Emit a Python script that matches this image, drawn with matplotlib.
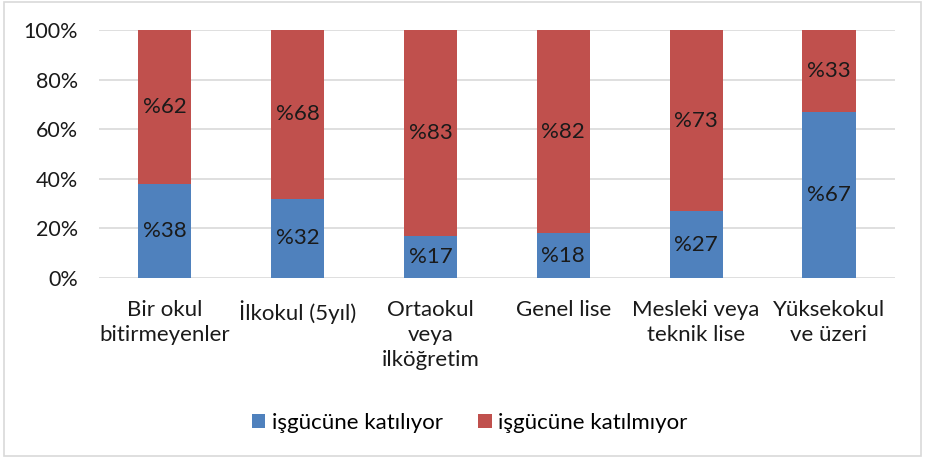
import matplotlib.pyplot as plt
import numpy as np
from matplotlib.patches import Rectangle

categories = ["Bir okul\nbitirmeyenler", "İlkokul (5yıl)", "Ortaokul\nveya\nilköğretim",
              "Genel lise", "Mesleki veya\nteknik lise", "Yüksekokul\nve üzeri"]
katiliyor = [38, 32, 17, 18, 27, 67]
katilmiyor = [62, 68, 83, 82, 73, 33]
series_names = ["işgücüne katılıyor", "işgücüne katılmıyor"]
yticks = [0, 20, 40, 60, 80, 100]

blue = "#4F81BD"
red = "#C0504D"
grid = "#D9D9D9"

plt.rcParams["font.family"] = ["Lato", "DejaVu Sans"]
plt.rcParams["font.size"] = 16

fig = plt.figure(figsize=(9.25, 4.58), dpi=100)
ax = fig.add_axes([0.1065, 0.393, 0.8615, 0.5415])

x = np.arange(len(categories))
b1 = ax.bar(x, katiliyor, width=0.4, color=blue, label=series_names[0], zorder=2)
b2 = ax.bar(x, katilmiyor, width=0.4, bottom=katiliyor, color=red,
            label=series_names[1], zorder=2)

for i in range(len(categories)):
    ax.text(x[i], katiliyor[i] / 2, "%" + str(katiliyor[i]), ha="center", va="center",
            color="#1a1a1a", zorder=3)
    ax.text(x[i], katiliyor[i] + katilmiyor[i] / 2, "%" + str(katilmiyor[i]),
            ha="center", va="center", color="#1a1a1a", zorder=3)

ax.set_xlim(-0.5, len(categories) - 0.5)
ax.set_ylim(0, 100)
ax.set_yticks(yticks)
ax.set_yticklabels([f"{v}%" for v in yticks], fontsize=15.5)
ax.set_xticks(x)
ax.set_xticklabels(categories, linespacing=1.32, va="top")
ax.tick_params(axis="both", length=0, colors="#1a1a1a")
ax.tick_params(axis="x", pad=16)
ax.tick_params(axis="y", pad=15)
for s in ax.spines.values():
    s.set_visible(False)
ax.yaxis.grid(True, color=grid, linewidth=1.2, zorder=0)
ax.set_axisbelow(True)

fig.legend(handles=[b1, b2], labels=series_names, loc="center",
           bbox_to_anchor=(0.508, 0.076), ncol=2, frameon=False,
           handlelength=0.6, handleheight=0.6, handletextpad=0.3, columnspacing=1.6)

fig.patches.append(Rectangle((0.004, 0.004), 0.992, 0.992, transform=fig.transFigure,
                             fill=False, edgecolor=grid, linewidth=1.2))

fig.savefig("out.png", dpi=100)
